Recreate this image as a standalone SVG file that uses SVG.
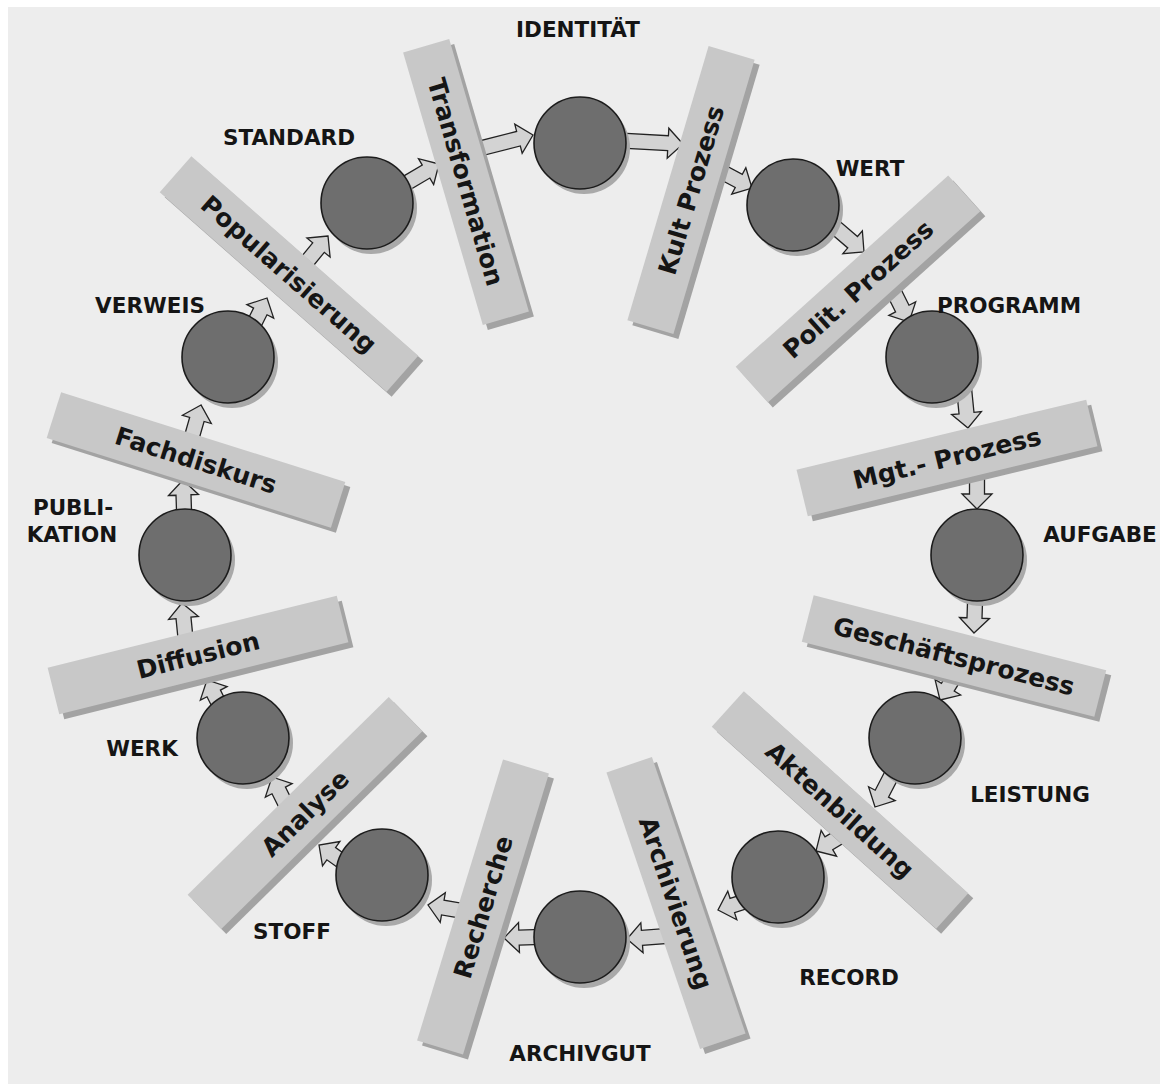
<svg xmlns="http://www.w3.org/2000/svg" width="1160" height="1084" viewBox="0 0 1160 1084">
<style>
.bg{fill:#ededed}
.bar{fill:#c8c8c8}
.bsh{fill:#a3a3a3}
.cir{fill:#6e6e6e;stroke:#1c1c1c;stroke-width:1.6}
.csh{fill:#a9a9a9}
.arr{fill:#d3d3d3;stroke:#222;stroke-width:1.3;stroke-linejoin:miter}
.bt{font-family:"DejaVu Sans",Verdana,sans-serif;font-weight:bold;font-size:25px;fill:#151515;text-anchor:middle}
.lb{font-family:"DejaVu Sans",Verdana,sans-serif;font-weight:bold;font-size:21.5px;fill:#151515;text-anchor:middle}
</style>
<rect x="0" y="0" width="1160" height="1084" fill="#ffffff"/>
<rect class="bg" x="8" y="7" width="1152" height="1077"/>

<g id="connectors">
<path class="arr" transform="translate(439,164) rotate(-30.4)" d="M0,0 L-15,-15 L-15,-7.5 L-48,-7.5 L-48,7.5 L-15,7.5 L-15,15 Z"/>
<path class="arr" transform="translate(533,135) rotate(-14.3)" d="M0,0 L-15,-15 L-15,-7.5 L-62,-7.5 L-62,7.5 L-15,7.5 L-15,15 Z"/>
<path class="arr" transform="translate(683,144) rotate(3.1)" d="M0,0 L-15,-15 L-15,-7.5 L-70,-7.5 L-70,7.5 L-15,7.5 L-15,15 Z"/>
<path class="arr" transform="translate(752,188) rotate(28.1)" d="M0,0 L-15,-15 L-15,-7.5 L-48,-7.5 L-48,7.5 L-15,7.5 L-15,15 Z"/>
<path class="arr" transform="translate(864,252) rotate(40.6)" d="M0,0 L-15,-15 L-15,-7.5 L-51,-7.5 L-51,7.5 L-15,7.5 L-15,15 Z"/>
<path class="arr" transform="translate(909,322) rotate(63.4)" d="M0,0 L-15,-15 L-15,-7.5 L-41,-7.5 L-41,7.5 L-15,7.5 L-15,15 Z"/>
<path class="arr" transform="translate(968,428) rotate(84.3)" d="M0,0 L-15,-15 L-15,-7.5 L-44,-7.5 L-44,7.5 L-15,7.5 L-15,15 Z"/>
<path class="arr" transform="translate(977,509) rotate(90)" d="M0,0 L-15,-15 L-15,-7.5 L-43,-7.5 L-43,7.5 L-15,7.5 L-15,15 Z"/>
<path class="arr" transform="translate(974,633) rotate(91.9)" d="M0,0 L-15,-15 L-15,-7.5 L-44,-7.5 L-44,7.5 L-15,7.5 L-15,15 Z"/>
<path class="arr" transform="translate(940,700) rotate(121.4)" d="M0,0 L-15,-15 L-15,-7.5 L-38,-7.5 L-38,7.5 L-15,7.5 L-15,15 Z"/>
<path class="arr" transform="translate(875,807) rotate(117.3)" d="M0,0 L-15,-15 L-15,-7.5 L-47,-7.5 L-47,7.5 L-15,7.5 L-15,15 Z"/>
<path class="arr" transform="translate(816,851) rotate(149)" d="M0,0 L-15,-15 L-15,-7.5 L-38,-7.5 L-38,7.5 L-15,7.5 L-15,15 Z"/>
<path class="arr" transform="translate(718,910) rotate(162.4)" d="M0,0 L-15,-15 L-15,-7.5 L-38,-7.5 L-38,7.5 L-15,7.5 L-15,15 Z"/>
<path class="arr" transform="translate(627,939) rotate(175.7)" d="M0,0 L-15,-15 L-15,-7.5 L-54,-7.5 L-54,7.5 L-15,7.5 L-15,15 Z"/>
<path class="arr" transform="translate(504,938) rotate(178.2)" d="M0,0 L-15,-15 L-15,-7.5 L-45,-7.5 L-45,7.5 L-15,7.5 L-15,15 Z"/>
<path class="arr" transform="translate(428,905) rotate(-170.2)" d="M0,0 L-15,-15 L-15,-7.5 L-43,-7.5 L-43,7.5 L-15,7.5 L-15,15 Z"/>
<path class="arr" transform="translate(319,845) rotate(-144.5)" d="M0,0 L-15,-15 L-15,-7.5 L-40,-7.5 L-40,7.5 L-15,7.5 L-15,15 Z"/>
<path class="arr" transform="translate(272,777) rotate(-116.6)" d="M0,0 L-15,-15 L-15,-7.5 L-41,-7.5 L-41,7.5 L-15,7.5 L-15,15 Z"/>
<path class="arr" transform="translate(207,680) rotate(-116.6)" d="M0,0 L-15,-15 L-15,-7.5 L-39,-7.5 L-39,7.5 L-15,7.5 L-15,15 Z"/>
<path class="arr" transform="translate(182,603) rotate(-95.7)" d="M0,0 L-15,-15 L-15,-7.5 L-44,-7.5 L-44,7.5 L-15,7.5 L-15,15 Z"/>
<path class="arr" transform="translate(183,480) rotate(-91.9)" d="M0,0 L-15,-15 L-15,-7.5 L-44,-7.5 L-44,7.5 L-15,7.5 L-15,15 Z"/>
<path class="arr" transform="translate(201,405) rotate(-74)" d="M0,0 L-15,-15 L-15,-7.5 L-43,-7.5 L-43,7.5 L-15,7.5 L-15,15 Z"/>
<path class="arr" transform="translate(267,298) rotate(-63.4)" d="M0,0 L-15,-15 L-15,-7.5 L-41,-7.5 L-41,7.5 L-15,7.5 L-15,15 Z"/>
<path class="arr" transform="translate(328,236) rotate(-50.7)" d="M0,0 L-15,-15 L-15,-7.5 L-42,-7.5 L-42,7.5 L-15,7.5 L-15,15 Z"/>
</g>

<g id="bar-kult">
<rect class="bsh" transform="translate(696,195) rotate(-73.5)" x="-143" y="-24" width="286" height="48"/>
<rect class="bar" transform="translate(691,190) rotate(-73.5)" x="-143" y="-24" width="286" height="48"/>
<text class="bt" transform="translate(691,190) rotate(-73.5)" dy="9">Kult Prozess</text>
</g>
<g id="bar-polit">
<rect class="bsh" transform="translate(863,294) rotate(-42)" x="-143" y="-24" width="286" height="48"/>
<rect class="bar" transform="translate(858,289) rotate(-42)" x="-143" y="-24" width="286" height="48"/>
<text class="bt" transform="translate(858,289) rotate(-42)" dy="9">Polit. Prozess</text>
</g>
<g id="bar-mgt">
<rect class="bsh" transform="translate(952,463) rotate(-13.6)" x="-149" y="-24" width="298" height="48"/>
<rect class="bar" transform="translate(947,458) rotate(-13.6)" x="-149" y="-24" width="298" height="48"/>
<text class="bt" transform="translate(947,458) rotate(-13.6)" dy="9">Mgt.- Prozess</text>
</g>
<g id="bar-geschaeft">
<rect class="bsh" transform="translate(959,661) rotate(14.4)" x="-151" y="-24" width="302" height="48"/>
<rect class="bar" transform="translate(954,656) rotate(14.4)" x="-151" y="-24" width="302" height="48"/>
<text class="bt" transform="translate(954,656) rotate(14.4)" dy="9">Geschäftsprozess</text>
</g>
<g id="bar-akten">
<rect class="bsh" transform="translate(845,815) rotate(42)" x="-151" y="-24" width="302" height="48"/>
<rect class="bar" transform="translate(840,810) rotate(42)" x="-151" y="-24" width="302" height="48"/>
<text class="bt" transform="translate(840,810) rotate(42)" dy="9">Aktenbildung</text>
</g>
<g id="bar-archivierung">
<rect class="bsh" transform="translate(681,908) rotate(71.3)" x="-146" y="-24" width="292" height="48"/>
<rect class="bar" transform="translate(676,903) rotate(71.3)" x="-146" y="-24" width="292" height="48"/>
<text class="bt" transform="translate(676,903) rotate(71.3)" dy="9">Archivierung</text>
</g>
<g id="bar-recherche">
<rect class="bsh" transform="translate(488,912) rotate(-73)" x="-147" y="-24" width="294" height="48"/>
<rect class="bar" transform="translate(483,907) rotate(-73)" x="-147" y="-24" width="294" height="48"/>
<text class="bt" transform="translate(483,907) rotate(-73)" dy="9">Recherche</text>
</g>
<g id="bar-analyse">
<rect class="bsh" transform="translate(310,818) rotate(-44.5)" x="-141" y="-24" width="282" height="48"/>
<rect class="bar" transform="translate(305,813) rotate(-44.5)" x="-141" y="-24" width="282" height="48"/>
<text class="bt" transform="translate(305,813) rotate(-44.5)" dy="9">Analyse</text>
</g>
<g id="bar-diffusion">
<rect class="bsh" transform="translate(203,660) rotate(-14)" x="-149" y="-24" width="298" height="48"/>
<rect class="bar" transform="translate(198,655) rotate(-14)" x="-149" y="-24" width="298" height="48"/>
<text class="bt" transform="translate(198,655) rotate(-14)" dy="9">Diffusion</text>
</g>
<g id="bar-fachdiskurs">
<rect class="bsh" transform="translate(201,465) rotate(17.5)" x="-149" y="-24" width="298" height="48"/>
<rect class="bar" transform="translate(196,460) rotate(17.5)" x="-149" y="-24" width="298" height="48"/>
<text class="bt" transform="translate(196,460) rotate(17.5)" dy="9">Fachdiskurs</text>
</g>
<g id="bar-popularisierung">
<rect class="bsh" transform="translate(294,279) rotate(41.3)" x="-151" y="-24" width="302" height="48"/>
<rect class="bar" transform="translate(289,274) rotate(41.3)" x="-151" y="-24" width="302" height="48"/>
<text class="bt" transform="translate(289,274) rotate(41.3)" dy="9">Popularisierung</text>
</g>
<g id="bar-transformation">
<rect class="bsh" transform="translate(471,187) rotate(73.7)" x="-142" y="-24" width="284" height="48"/>
<rect class="bar" transform="translate(466,182) rotate(73.7)" x="-142" y="-24" width="284" height="48"/>
<text class="bt" transform="translate(466,182) rotate(73.7)" dy="9">Transformation</text>
</g>

<g id="node-identitaet"><circle class="csh" cx="584" cy="148" r="46"/><circle class="cir" cx="580" cy="143" r="46"/><text class="lb" x="578" y="37">IDENTITÄT</text></g>
<g id="node-wert"><circle class="csh" cx="797" cy="210" r="46"/><circle class="cir" cx="793" cy="205" r="46"/><text class="lb" x="870" y="176">WERT</text></g>
<g id="node-programm"><circle class="csh" cx="936" cy="362" r="46"/><circle class="cir" cx="932" cy="357" r="46"/><text class="lb" x="1009" y="313">PROGRAMM</text></g>
<g id="node-aufgabe"><circle class="csh" cx="981" cy="560" r="46"/><circle class="cir" cx="977" cy="555" r="46"/><text class="lb" x="1100" y="542">AUFGABE</text></g>
<g id="node-leistung"><circle class="csh" cx="919" cy="743" r="46"/><circle class="cir" cx="915" cy="738" r="46"/><text class="lb" x="1030" y="802">LEISTUNG</text></g>
<g id="node-record"><circle class="csh" cx="782" cy="882" r="46"/><circle class="cir" cx="778" cy="877" r="46"/><text class="lb" x="849" y="985">RECORD</text></g>
<g id="node-archivgut"><circle class="csh" cx="584" cy="942" r="46"/><circle class="cir" cx="580" cy="937" r="46"/><text class="lb" x="580" y="1061">ARCHIVGUT</text></g>
<g id="node-stoff"><circle class="csh" cx="386" cy="880" r="46"/><circle class="cir" cx="382" cy="875" r="46"/><text class="lb" x="292" y="939">STOFF</text></g>
<g id="node-werk"><circle class="csh" cx="247" cy="743" r="46"/><circle class="cir" cx="243" cy="738" r="46"/><text class="lb" x="142" y="756">WERK</text></g>
<g id="node-publikation"><circle class="csh" cx="189" cy="560" r="46"/><circle class="cir" cx="185" cy="555" r="46"/><text class="lb" x="73" y="515">PUBLI-</text><text class="lb" x="72" y="542">KATION</text></g>
<g id="node-verweis"><circle class="csh" cx="232" cy="362" r="46"/><circle class="cir" cx="228" cy="357" r="46"/><text class="lb" x="150" y="313">VERWEIS</text></g>
<g id="node-standard"><circle class="csh" cx="371" cy="208" r="46"/><circle class="cir" cx="367" cy="203" r="46"/><text class="lb" x="289" y="145">STANDARD</text></g>
</svg>
